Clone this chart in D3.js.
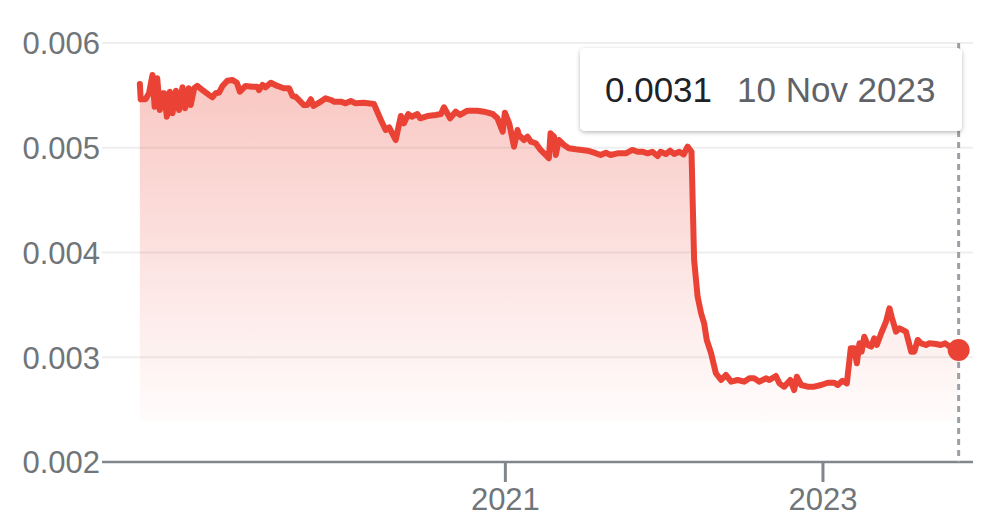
<!DOCTYPE html>
<html>
<head>
<meta charset="utf-8">
<script src="https://cdn.jsdelivr.net/npm/d3@7"></script>
<style>
  html, body { margin: 0; padding: 0; background: #fff; }
  svg { display: block; font-family: Arial, "Liberation Sans", sans-serif; }
</style>
</head>
<body>
<svg id="chart" width="998" height="531"></svg>
<script>
const dates = [
"2018-09-15","2018-09-17","2018-09-28","2018-10-06","2018-10-14","2018-10-19","2018-10-25","2018-10-31","2018-11-06","2018-11-10",
"2018-11-16","2018-11-23","2018-11-29","2018-12-07","2018-12-14","2018-12-22","2018-12-28","2019-01-05","2019-01-10","2019-01-18",
"2019-01-25","2019-02-06","2019-02-21","2019-03-01","2019-03-08","2019-03-16","2019-03-24","2019-04-04","2019-04-16","2019-04-26",
"2019-05-03","2019-05-16","2019-06-01","2019-06-11","2019-06-16","2019-06-24","2019-07-01","2019-07-13","2019-07-28","2019-08-12",
"2019-08-24","2019-09-01","2019-09-08","2019-09-27","2019-10-05","2019-10-13","2019-10-19","2019-11-01","2019-11-16","2019-11-28",
"2019-12-05","2019-12-21","2020-01-01","2020-01-13","2020-01-24","2020-02-12","2020-03-06","2020-03-22","2020-04-02","2020-04-10",
"2020-04-25","2020-05-07","2020-05-14","2020-05-24","2020-06-01","2020-06-14","2020-06-20","2020-07-07","2020-07-26","2020-08-07",
"2020-08-14","2020-08-28","2020-09-10","2020-09-20","2020-10-07","2020-10-30","2020-11-14","2020-12-04","2020-12-15","2020-12-27",
"2021-01-01","2021-01-11","2021-01-22","2021-01-30","2021-02-02","2021-02-14","2021-02-22","2021-03-02","2021-03-13","2021-03-24",
"2021-04-05","2021-04-12","2021-04-16","2021-04-24","2021-04-28","2021-05-05","2021-05-17","2021-05-28","2021-06-13","2021-07-10",
"2021-07-25","2021-08-09","2021-08-21","2021-09-01","2021-09-17","2021-10-06","2021-10-21","2021-11-02","2021-11-13","2021-11-25",
"2021-12-06","2021-12-18","2021-12-25","2022-01-06","2022-01-16","2022-01-25","2022-02-06","2022-02-16","2022-02-25","2022-03-06",
"2022-03-09","2022-03-12","2022-03-20","2022-03-28","2022-04-04","2022-04-10","2022-04-20","2022-05-01","2022-05-13","2022-05-24",
"2022-06-05","2022-06-20","2022-07-05","2022-07-17","2022-07-28","2022-08-09","2022-08-24","2022-09-01","2022-09-16","2022-09-24",
"2022-10-05","2022-10-19","2022-10-28","2022-11-03","2022-11-13","2022-11-28","2022-12-13","2022-12-29","2023-01-13","2023-01-28",
"2023-02-05","2023-02-16","2023-02-26","2023-03-07","2023-03-15","2023-03-21","2023-03-27","2023-04-01","2023-04-07","2023-04-15",
"2023-04-23","2023-04-30","2023-05-06","2023-05-16","2023-05-27","2023-06-04","2023-06-09","2023-06-19","2023-06-27","2023-07-12",
"2023-07-24","2023-07-31","2023-08-08","2023-08-16","2023-08-27","2023-09-04","2023-09-19","2023-09-30","2023-10-10","2023-10-31",
"2023-11-10"
];
const values = [
0.005609,0.005463,0.005463,0.005520,0.005695,0.005392,0.005663,0.005360,0.005520,0.005520,
0.005296,0.005535,0.005329,0.005545,0.005360,0.005577,0.005377,0.005568,0.005408,0.005568,
0.005590,0.005551,0.005504,0.005482,0.005520,0.005526,0.005590,0.005640,0.005647,0.005621,
0.005535,0.005590,0.005583,0.005583,0.005551,0.005599,0.005577,0.005621,0.005590,0.005568,
0.005568,0.005494,0.005487,0.005408,0.005408,0.005463,0.005399,0.005430,0.005472,0.005456,
0.005440,0.005440,0.005424,0.005446,0.005424,0.005430,0.005418,0.005265,0.005169,0.005195,
0.005074,0.005303,0.005233,0.005322,0.005296,0.005322,0.005281,0.005303,0.005313,0.005322,
0.005386,0.005281,0.005344,0.005313,0.005354,0.005354,0.005344,0.005322,0.005281,0.005153,
0.005335,0.005233,0.005010,0.005169,0.005122,0.005074,0.005106,0.005058,0.005043,0.004979,
0.004931,0.004899,0.005138,0.005106,0.004931,0.005074,0.005026,0.004995,0.004985,0.004972,
0.004953,0.004931,0.004953,0.004931,0.004947,0.004947,0.004979,0.004962,0.004962,0.004947,
0.004962,0.004921,0.004962,0.004940,0.004972,0.004940,0.004962,0.004937,0.005010,0.004962,
0.004437,0.003928,0.003578,0.003420,0.003324,0.003165,0.003038,0.002847,0.002783,0.002831,
0.002767,0.002783,0.002767,0.002799,0.002799,0.002767,0.002799,0.002783,0.002821,0.002751,
0.002719,0.002783,0.002687,0.002814,0.002735,0.002719,0.002719,0.002735,0.002757,0.002757,
0.002735,0.002776,0.002751,0.003085,0.003085,0.002942,0.003133,0.003053,0.003196,0.003117,
0.003101,0.003181,0.003117,0.003229,0.003339,0.003467,0.003387,0.003244,0.003276,0.003244,
0.003053,0.003053,0.003165,0.003133,0.003117,0.003133,0.003127,0.003117,0.003133,0.003069,
0.003069
];
const yTicks = [0.002, 0.003, 0.004, 0.005, 0.006];
const xTickDates = ["2021-01-01", "2023-01-01"];
const xTickLabels = ["2021", "2023"];
const xDomain = ["2018-06-20", "2023-12-13"];
const areaFloor = 0.00239;
const tooltipValue = "0.0031";
const tooltipDate = "10 Nov 2023";

(function () {
const parse = d3.timeParse("%Y-%m-%d");
const data = dates.map((d, i) => ({ date: parse(d), value: values[i] }));

const svg = d3.select("#chart");
const pL = 102, pR = 973, pT = 43, pB = 462;
const x = d3.scaleTime().domain(xDomain.map(parse)).range([pL, pR]);
const y = d3.scaleLinear().domain([0.002, 0.006]).range([pB, pT]);

const defs = svg.append("defs");
const grad = defs.append("linearGradient").attr("id", "fillGrad")
  .attr("gradientUnits", "userSpaceOnUse")
  .attr("x1", 0).attr("x2", 0)
  .attr("y1", y(d3.max(values))).attr("y2", y(areaFloor));
grad.append("stop").attr("offset", 0).attr("stop-color", "#ea4335").attr("stop-opacity", 0.3);
grad.append("stop").attr("offset", 1).attr("stop-color", "#ea4335").attr("stop-opacity", 0.015);

const shadow = defs.append("filter").attr("id", "shadow")
  .attr("x", "-10%").attr("y", "-20%").attr("width", "120%").attr("height", "150%");
shadow.append("feDropShadow").attr("dx", 0).attr("dy", 1.5).attr("stdDeviation", 2)
  .attr("flood-color", "#000").attr("flood-opacity", 0.28);

svg.append("g").selectAll("line")
  .data(yTicks.slice(1)).join("line")
  .attr("x1", pL).attr("x2", pR)
  .attr("y1", d => y(d)).attr("y2", d => y(d))
  .attr("stroke", "#eeeeee").attr("stroke-width", 2);

const yAxis = svg.append("g").attr("transform", `translate(${pL - 2},0)`)
  .call(d3.axisLeft(y).tickValues(yTicks).tickSize(0).tickPadding(0).tickFormat(d3.format(".3f")));
yAxis.select(".domain").remove();
yAxis.selectAll("text").attr("font-size", 31).attr("fill", "#70757a")
  .attr("font-family", "Arial, 'Liberation Sans', sans-serif").attr("dy", "0.35em");

const area = d3.area().x(d => x(d.date)).y0(y(areaFloor)).y1(d => y(d.value));
svg.append("path").datum(data).attr("d", area).attr("fill", "url(#fillGrad)");

const line = d3.line().x(d => x(d.date)).y(d => y(d.value));
svg.append("path").datum(data).attr("d", line)
  .attr("fill", "none").attr("stroke", "#ea4335").style("stroke-width", "6px")
  .attr("stroke-linejoin", "round").attr("stroke-linecap", "round");

const xAxis = svg.append("g").attr("transform", `translate(0,${pB})`)
  .call(d3.axisBottom(x).tickValues(xTickDates.map(parse)).tickSize(20).tickPadding(6)
    .tickFormat((d, i) => xTickLabels[i]));
xAxis.select(".domain").attr("d", `M${pL},0H${pR}`).attr("stroke", "#80868b").attr("stroke-width", 2.5);
xAxis.selectAll(".tick line").attr("stroke", "#80868b").attr("stroke-width", 3);
xAxis.selectAll("text").attr("font-size", 31).attr("fill", "#70757a")
  .attr("font-family", "Arial, 'Liberation Sans', sans-serif");

const last = data[data.length - 1];
svg.append("line")
  .attr("x1", x(last.date)).attr("x2", x(last.date))
  .attr("y1", pT).attr("y2", pB)
  .attr("stroke", "#9aa0a6").attr("stroke-width", 3).attr("stroke-dasharray", "6,5");

svg.append("circle").attr("cx", x(last.date)).attr("cy", y(last.value)).attr("r", 11)
  .attr("fill", "#ea4335");

const tip = svg.append("g").attr("transform", "translate(580,48)");
tip.append("rect").attr("width", 382).attr("height", 83).attr("rx", 5)
  .attr("fill", "#fff").attr("filter", "url(#shadow)");
tip.append("text").attr("x", 25).attr("y", 54).attr("font-size", 35).attr("fill", "#202124")
  .text(tooltipValue);
tip.append("text").attr("x", 157).attr("y", 54).attr("font-size", 35).attr("fill", "#5f6368")
  .text(tooltipDate);
})();
</script>
</body>
</html>
